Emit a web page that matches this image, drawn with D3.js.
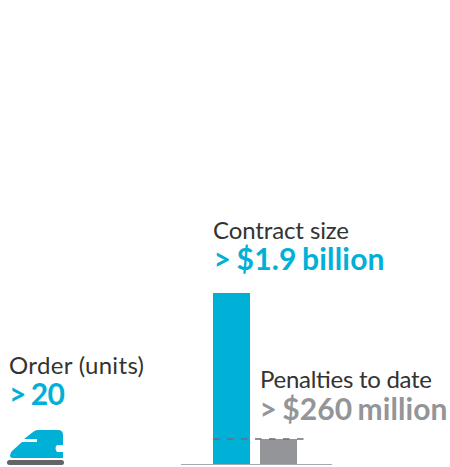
<!DOCTYPE html>
<html>
<head>
<style>
    body { margin: 0; background: #fff; }
    text { font-family: Lato, sans-serif; }
    .label { font-size: 24px; fill: #333333; }
    .value { font-size: 30px; font-weight: 700; word-spacing: -2px; }
</style>
<script src="https://d3js.org/d3.v7.min.js"></script>
</head>
<body>

<svg width="450" height="467"></svg>

<script>

    // bar heights ($ million)
    var barNames = ["Contract size", "Penalties to date"];
    var barValues = [1900, 278];
    var barValueLabels = ["> $1.9 billion", "> $260 million"];
    var barColors = ["#00b0d6", "#939598"];

    var orderLabel = "Order (units)";
    var orderValue = "> 20";

    var svg = d3.select("svg");

    var xScale = d3.scaleBand()
        .domain(barNames)
        .range([213, 297])
        .paddingInner(10 / 47);

    var yScale = d3.scaleLinear()
        .domain([0, 1900])
        .range([464, 293]);

    // Bars
    svg.selectAll(".bar")
        .data(barNames)
        .enter()
        .append("rect")
        .attr("class", "bar")
        .attr("x", function (d) { return xScale(d); })
        .attr("width", xScale.bandwidth())
        .attr("y", function (d, i) { return yScale(barValues[i]); })
        .attr("height", function (d, i) { return yScale(0) - yScale(barValues[i]); })
        .attr("fill", function (d, i) { return barColors[i]; });

    // Baseline
    svg.append("line")
        .attr("x1", 181).attr("x2", 332)
        .attr("y1", yScale(0) + 0.5).attr("y2", yScale(0) + 0.5)
        .attr("stroke", "#a7a9ac")
        .attr("stroke-width", 1);

    // Dashed line at the penalties level
    svg.append("line")
        .attr("x1", 213).attr("x2", 304)
        .attr("y1", yScale(barValues[1])).attr("y2", yScale(barValues[1]))
        .attr("stroke", "#6d6e71")
        .attr("stroke-width", 1.5)
        .attr("stroke-dasharray", "6.5 7.5");

    // Bar labels
    var labelX = [213, 260];
    var labelY = [239, 388];
    var labelW = [136, 172];
    var valueX = [213.5, 259.5];
    var valueY = [270, 420];
    var valueW = [171, 188];

    barNames.forEach(function (name, i) {
        svg.append("text").attr("class", "label")
            .attr("x", labelX[i]).attr("y", labelY[i])
            .attr("textLength", labelW[i])
            .text(name);
        svg.append("text").attr("class", "value")
            .attr("x", valueX[i]).attr("y", valueY[i])
            .attr("textLength", valueW[i])
            .attr("fill", barColors[i])
            .text(barValueLabels[i]);
    });

    // Order text
    svg.append("text").attr("class", "label")
        .attr("x", 9).attr("y", 374)
        .attr("textLength", 135)
        .text(orderLabel);
    svg.append("text").attr("class", "value")
        .attr("x", 9).attr("y", 405)
        .attr("textLength", 56)
        .attr("fill", barColors[0])
        .text(orderValue);

    // Train icon
    svg.append("path")
        .attr("d", "M10 456 Q10 453 12 451 L22 442 L37 442 L37 439 L24 439 L33 432 Q35 430 38 430 L58 430 Q63 430 63 435 L63 445 L57 445 Q54 448 57 452 L63 452 L63 458 L14 458 Q10 458 10 456 Z")
        .attr("fill", barColors[0]);
    svg.append("rect")
        .attr("x", 7).attr("y", 460)
        .attr("width", 57).attr("height", 5)
        .attr("rx", 2.5)
        .attr("fill", "#636466");

</script>
</body>
</html>
